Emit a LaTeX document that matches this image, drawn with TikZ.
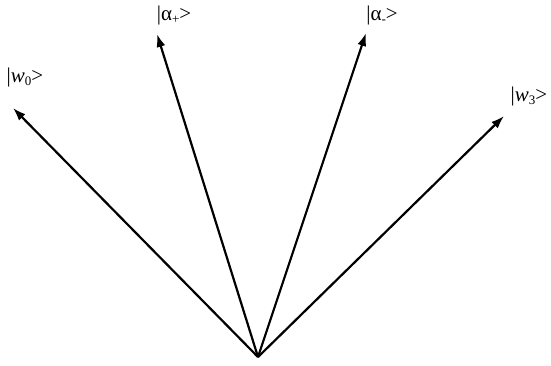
\documentclass[tikz,border=0pt]{standalone}
\usepackage{fontspec}
\setmainfont{Liberation Serif}
\usetikzlibrary{arrows.meta}
\newcommand{\ketsub}[1]{\raisebox{-3.5pt}{\fontsize{13}{13}\selectfont #1}}
\begin{document}
\begin{tikzpicture}[x=1pt,y=-1pt,
  vec/.style={line width=2.2pt,-{Latex[length=13pt,width=9pt]}},
  ket/.style={font=\fontsize{21}{23}\selectfont,inner sep=0pt}]
\useasboundingbox (0,0) rectangle (551,366);
% origin of all vectors
\coordinate (o) at (258,357);
% vector tips
\coordinate (w0) at (13,108);
\coordinate (ap) at (157,34);
\coordinate (am) at (366,33);
\coordinate (w3) at (504,116);
\draw[vec] (o) -- (w0);
\draw[vec] (o) -- (ap);
\draw[vec] (o) -- (am);
\draw[vec] (o) -- (w3);
% labels
\node[ket] (lw0) at (25,77) {|\textit{w}\ketsub{0}>};
\node[ket] (lap) at (174,15) {|α\ketsub{+}>};
\node[ket] (lam) at (382,15) {|α\ketsub{-}>};
\node[ket] (lw3) at (529,96) {|\textit{w}\ketsub{3}>};
\end{tikzpicture}
\end{document}
